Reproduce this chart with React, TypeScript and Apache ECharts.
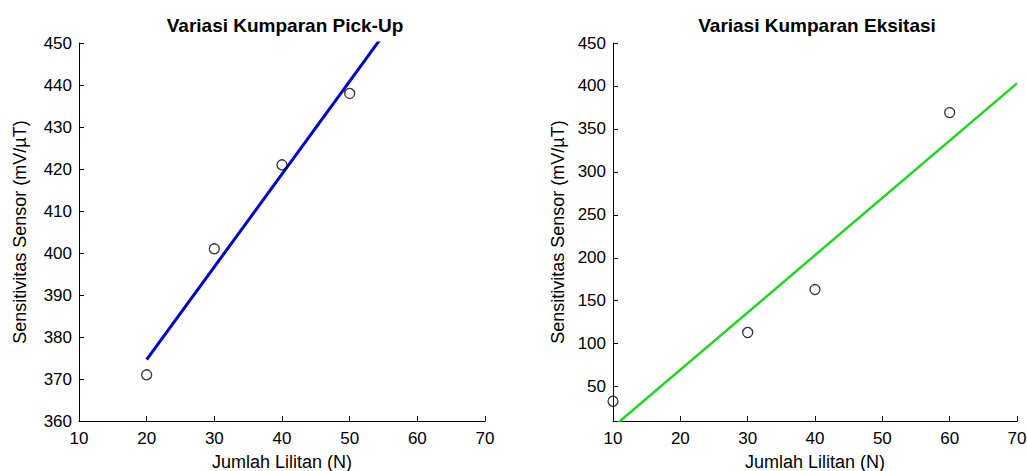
import React, { useEffect, useRef } from "react";
import * as echarts from "echarts";

// Left panel: pick-up coil variation
const pickupTurns = [20, 30, 40, 50];
const pickupSens = [371, 401, 421, 438];
const pickupFitX = [20, 70];
const pickupFitY = [374.6, 485.1];

// Right panel: excitation coil variation
const excTurns = [10, 30, 40, 60];
const excSens = [33, 113, 163, 369];
const excFitX = [10, 70];
const excFitY = [3, 403];

const rightYTicks = [50, 100, 150, 200, 250, 300, 350, 400, 450];

const titles = ["Variasi Kumparan Pick-Up", "Variasi Kumparan Eksitasi"];
const xName = "Jumlah Lilitan (N)";
const yName = "Sensitivitas Sensor (mV/µT)";

const FONT = "'Liberation Sans', Arial, sans-serif";

export default function App() {
  const ref = useRef<HTMLDivElement>(null);
  useEffect(() => {
    document.body.style.margin = "0";
    const chart = echarts.init(ref.current!, null, { renderer: "svg" });
    const axisCommon = {
      axisLine: { show: true, lineStyle: { color: "#000", width: 1 } },
      axisTick: { show: true, inside: true, length: 5, lineStyle: { color: "#000" } },
      splitLine: { show: false },
      axisLabel: { color: "#000", fontSize: 17, fontFamily: FONT },
      nameTextStyle: { color: "#000", fontSize: 18, fontFamily: FONT },
    };
    const xAx = (gridIndex: number) => ({
      ...axisCommon,
      type: "value",
      gridIndex,
      min: 10,
      max: 70,
      interval: 10,
      name: xName,
      nameLocation: "middle",
      nameGap: 32,
      axisLabel: { ...axisCommon.axisLabel, margin: 9, showMaxLabel: true, showMinLabel: true },
    });
    const pair = (xs: number[], ys: number[]) => xs.map((x, i) => [x, ys[i]]);
    const titleStyle = { fontSize: 19, fontWeight: "bold", color: "#000", fontFamily: FONT };
    const option = {
      animation: false,
      backgroundColor: "#fff",
      title: [
        { text: titles[0], left: 280, top: 11, textAlign: "center", textStyle: titleStyle },
        { text: titles[1], left: 812, top: 11, textAlign: "center", textStyle: titleStyle },
      ],
      grid: [
        { left: 79, top: 43, width: 406, height: 378, outerBoundsMode: "none", containLabel: false },
        { left: 613, top: 43, width: 404, height: 378, outerBoundsMode: "none", containLabel: false },
      ],
      xAxis: [xAx(0), xAx(1)],
      yAxis: [
        {
          ...axisCommon,
          type: "value",
          gridIndex: 0,
          min: 360,
          max: 450,
          interval: 10,
          name: yName,
          nameLocation: "middle",
          nameGap: 50,
          axisLabel: { ...axisCommon.axisLabel, margin: 7, showMaxLabel: true },
        },
        {
          ...axisCommon,
          type: "value",
          gridIndex: 1,
          min: 10,
          max: 450,
          name: yName,
          nameLocation: "middle",
          nameGap: 46,
          axisTick: { ...axisCommon.axisTick, customValues: rightYTicks },
          axisLabel: { ...axisCommon.axisLabel, margin: 7, customValues: rightYTicks },
        },
      ],
      series: [
        {
          type: "line",
          xAxisIndex: 0,
          yAxisIndex: 0,
          data: pair(pickupFitX, pickupFitY),
          showSymbol: false,
          symbol: "none",
          clip: true,
          lineStyle: { color: "#0000CC", width: 3 },
          z: 2,
        },
        {
          type: "scatter",
          xAxisIndex: 0,
          yAxisIndex: 0,
          data: pair(pickupTurns, pickupSens),
          symbol: "circle",
          symbolSize: 10,
          itemStyle: { color: "rgba(0,0,0,0)", borderColor: "#000", borderWidth: 1.3 },
          z: 3,
        },
        {
          type: "line",
          xAxisIndex: 1,
          yAxisIndex: 1,
          data: pair(excFitX, excFitY),
          showSymbol: false,
          symbol: "none",
          clip: true,
          lineStyle: { color: "#22D422", width: 2.5 },
          z: 2,
        },
        {
          type: "scatter",
          xAxisIndex: 1,
          yAxisIndex: 1,
          data: pair(excTurns, excSens),
          symbol: "circle",
          symbolSize: 10,
          clip: false,
          itemStyle: { color: "rgba(0,0,0,0)", borderColor: "#000", borderWidth: 1.3 },
          z: 3,
        },
      ],
    };
    chart.setOption(option as any);
    return () => chart.dispose();
  }, []);
  return <div ref={ref} style={{ width: 1027, height: 471 }} />;
}
